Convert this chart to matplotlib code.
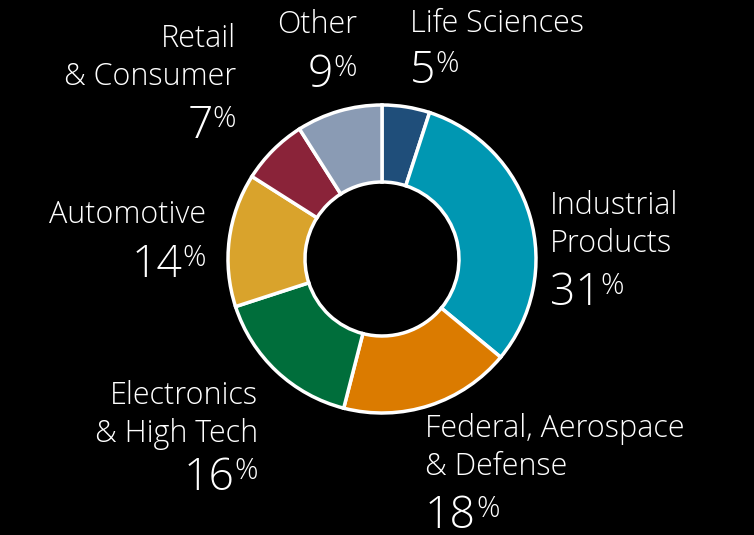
import matplotlib
matplotlib.use('Agg')
import matplotlib.pyplot as plt

W, H = 754, 535

labels = ['Life Sciences', 'Industrial\nProducts', 'Federal, Aerospace\n& Defense',
          'Electronics\n& High Tech', 'Automotive', 'Retail\n& Consumer', 'Other']
shares = [5, 31, 18, 16, 14, 7, 9]
colors = ['#1F4E7A', '#0097B2', '#DB7B00', '#006E3B', '#D9A32C', '#8A2339', '#8A9BB4']

# where each label sits, in pixels from the top left:
# x edge, baseline of last name line, baseline of the number, alignment
layout = [
    (410, 32, 83, 'left'),
    (550, 252, 305, 'left'),
    (425, 475, 528, 'left'),
    (258, 442, 490, 'right'),
    (206, 223, 277, 'right'),
    (236, 85, 138, 'right'),
    (357, 33, 87, 'right'),
]

FONT = ['Open Sans', 'DejaVu Sans']
NAME_FS, NUM_FS, PCT_FS = 22, 32, 21
LINE_STEP = 38

fig = plt.figure(figsize=(W / 100, H / 100), dpi=100, facecolor='black')
ax = fig.add_axes([0, 0, 1, 1])
ax.set_facecolor('black')

ax.pie(shares, colors=colors, startangle=90, counterclock=False,
       radius=154, center=(382, H - 259),
       wedgeprops=dict(width=77, edgecolor='white', linewidth=2.5))
ax.set_xlim(0, W)
ax.set_ylim(0, H)
ax.set_aspect('equal')
ax.axis('off')

renderer = fig.canvas.get_renderer()
txt = dict(color='white', family=FONT, fontweight='light')

for name, share, (x, base, num_base, align) in zip(labels, shares, layout):
    lines = name.split('\n')
    for i, line in enumerate(lines):
        y = base - (len(lines) - 1 - i) * LINE_STEP
        ax.text(x, H - y, line, ha=align, va='baseline', fontsize=NAME_FS, **txt)
    # percent sign is set small and raised, top level with the digits
    if align == 'left':
        num = ax.text(x, H - num_base, str(share), ha='left', va='baseline',
                      fontsize=NUM_FS, **txt)
        w = num.get_window_extent(renderer=renderer).width
        ax.text(x + w, H - (num_base - 11), '%', ha='left', va='baseline',
                fontsize=PCT_FS, **txt)
    else:
        pct = ax.text(x, H - (num_base - 11), '%', ha='right', va='baseline',
                      fontsize=PCT_FS, **txt)
        w = pct.get_window_extent(renderer=renderer).width
        ax.text(x - w, H - num_base, str(share), ha='right', va='baseline',
                fontsize=NUM_FS, **txt)

fig.savefig('out.png', dpi=100, facecolor='black')
